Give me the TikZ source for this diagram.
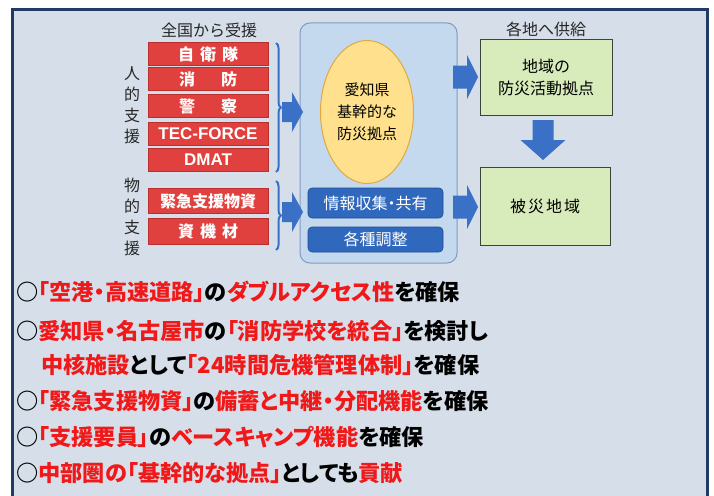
\documentclass[tikz,border=0pt]{standalone}
\usepackage{fontspec}
\setmainfont{Noto Sans CJK JP}
\newfontfamily\jpp{Noto Sans CJK JP}[RawFeature=+palt]
\newfontfamily\latinb{Liberation Sans}
\usetikzlibrary{shapes.geometric,decorations.pathreplacing}
\definecolor{framebg}{HTML}{D6DFE9}
\definecolor{frameline}{HTML}{1F3B66}
\definecolor{boxred}{HTML}{E0403E}
\definecolor{boxredline}{HTML}{B8302E}
\definecolor{midfill}{HTML}{C4D8EE}
\definecolor{midline}{HTML}{7F9CC0}
\definecolor{ellfill}{HTML}{FFE08C}
\definecolor{ellline}{HTML}{E0A840}
\definecolor{bluebox}{HTML}{2F68BC}
\definecolor{blueboxline}{HTML}{1F4E95}
\definecolor{greenfill}{HTML}{D7EBBB}
\definecolor{greenline}{HTML}{3A4438}
\definecolor{arrowblue}{HTML}{3A70C6}
\definecolor{txtred}{HTML}{F01818}
\newcommand\redtxt[1]{\textcolor{txtred}{#1}}
\tikzset{
  redbox/.style={rectangle, fill=boxred, draw=boxredline, line width=0.6pt, minimum width=120pt, minimum height=23pt, inner sep=0pt, text=white, font=\fontsize{16}{18}\selectfont\bfseries},
  bluebox/.style={rectangle, rounded corners=4pt, fill=bluebox, draw=blueboxline, line width=0.6pt, minimum width=135pt, inner sep=0pt, text=white, font=\jpp\fontsize{16}{18}\selectfont},
  greenbox/.style={rectangle, fill=greenfill, draw=greenline, line width=1pt, inner sep=0pt, align=center, font=\fontsize{16}{22}\selectfont},
  blockarrow/.style={fill=arrowblue},
  header/.style={font=\fontsize{16}{18}\selectfont, text=black!85},
  vlabel/.style={align=center, font=\fontsize{16}{21}\selectfont, text=black!85},
  bigline/.style={anchor=west, inner sep=0pt, font=\jpp\fontsize{22.2}{26}\selectfont\bfseries},
  bracestyle/.style={draw=arrowblue, line width=2pt, decorate, decoration={brace, amplitude=5pt}}
}
\begin{document}
\begin{tikzpicture}[x=1pt, y=-1pt]
\useasboundingbox (0,0) rectangle (714,495);
% frame
\draw[fill=framebg, draw=frameline, line width=3pt] (12,10) rectangle (707,505);

% headers
\node[header] (hdrA) at (209,30) {全国から受援};
\node[header] (hdrB) at (546,29) {各地へ供給};

% vertical labels
\node[vlabel] (jin) at (132,105) {人\\的\\支\\援};
\node[vlabel] (butsu) at (132,217) {物\\的\\支\\援};

% red boxes
\node[redbox] (r1) at (208,54) {自\hspace{6pt}衛\hspace{6pt}隊};
\node[redbox] (r2) at (208,79) {消\hspace{26pt}防};
\node[redbox] (r3) at (208,106) {警\hspace{26pt}察};
\node[redbox, font=\latinb\fontsize{17}{18}\selectfont\bfseries] (r4) at (208,134) {TEC-FORCE};
\node[redbox, font=\latinb\fontsize{17}{18}\selectfont\bfseries] (r5) at (208,160) {DMAT};
\node[redbox, minimum height=25pt] (r6) at (208,201) {緊急支援物資};
\node[redbox, minimum height=26pt] (r7) at (208,231) {資\hspace{6pt}機\hspace{6pt}材};

% braces
\coordinate (bA1) at (276,43);
\coordinate (bA2) at (276,172);
\coordinate (bB1) at (276,181);
\coordinate (bB2) at (276,250);
\draw[bracestyle] (bA1) -- (bA2);
\draw[bracestyle] (bB1) -- (bB2);

% middle box
\node[rectangle, rounded corners=10pt, fill=midfill, draw=midline, line width=1pt, minimum width=157pt, minimum height=240pt, inner sep=0pt] (mid) at (378.5,143) {};
\node[ellipse, fill=ellfill, draw=ellline, line width=1pt, minimum width=93pt, minimum height=143pt, inner sep=0pt, align=center, font=\fontsize{15}{22}\selectfont] (base) at (367,112) {愛知県\\基幹的な\\防災拠点};
\node[bluebox, minimum height=30pt] (info) at (375.5,203) {情報収集・共有};
\node[bluebox, minimum height=25pt] (adj) at (375.5,239.5) {各種調整};

% green boxes
\node[greenbox, minimum width=132pt, minimum height=75pt] (local) at (546,77.5) {地域の\\防災活動拠点};
\node[greenbox, minimum width=130pt, minimum height=78pt] (area) at (545,206) {被\hspace{2pt}災\hspace{2pt}地\hspace{2pt}域};

% block arrows (tail coordinates)
\coordinate (aL1) at (282,112);
\coordinate (aL2) at (282,212);
\coordinate (aR1) at (453,77);
\coordinate (aR2) at (453,207);
\coordinate (aD) at (543,120);
\fill[blockarrow] (aL1) ++(0,-10) -- ++(10,0) -- ++(0,-10) -- ++(11,20) -- ++(-11,20) -- ++(0,-10) -- ++(-10,0) -- cycle;
\fill[blockarrow] (aL2) ++(0,-10) -- ++(10,0) -- ++(0,-10) -- ++(11,20) -- ++(-11,20) -- ++(0,-10) -- ++(-10,0) -- cycle;
\fill[blockarrow] (aR1) ++(0,-11.5) -- ++(14,0) -- ++(0,-10.5) -- ++(11,22) -- ++(-11,22) -- ++(0,-10.5) -- ++(-14,0) -- cycle;
\fill[blockarrow] (aR2) ++(0,-11.5) -- ++(14,0) -- ++(0,-10.5) -- ++(11,22) -- ++(-11,22) -- ++(0,-10.5) -- ++(-14,0) -- cycle;
\fill[blockarrow] (aD) ++(-10.5,0) -- ++(0,20) -- ++(-12,0) -- ++(22.5,20) -- ++(22.5,-20) -- ++(-12,0) -- ++(0,-20) -- cycle;

% bottom text
\node[bigline] (l1) at (16,292) {○\redtxt{「空港・高速道路」}の\redtxt{ダブルアクセス性}を確保};
\node[bigline] (l2) at (16,331) {○\redtxt{愛知県・名古屋市}の\redtxt{「消防学校を統合」}を検討し};
\node[bigline] (l3) at (41,365) {\redtxt{中核施設}として\redtxt{「24時間危機管理体制」}を確保};
\node[bigline] (l4) at (16,401) {○\redtxt{「緊急支援物資」}の\redtxt{備蓄と中継・分配機能}を確保};
\node[bigline] (l5) at (16,437) {○\redtxt{「支援要員」}の\redtxt{ベースキャンプ機能}を確保};
\node[bigline] (l6) at (16,473) {○\redtxt{中部圏の「基幹的な拠点」}としても\redtxt{貢献}};
\end{tikzpicture}
\end{document}
